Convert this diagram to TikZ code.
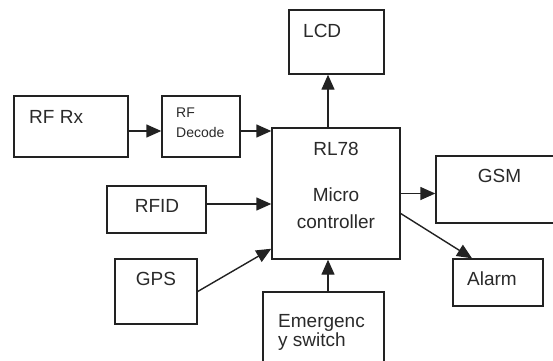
\documentclass[tikz,border=0pt]{standalone}
\usepackage{fontspec}
\setmainfont{Liberation Sans}
\usetikzlibrary{arrows.meta}
\definecolor{ink}{HTML}{222222}
\definecolor{txt}{HTML}{2a2a2a}
\begin{document}
\begin{tikzpicture}[x=1pt,y=-1pt,
  box/.style={draw=ink,line width=1.4pt,rectangle,inner sep=0pt},
  lbl/.style={anchor=base west,inner sep=0pt,text=txt,font=\fontsize{19}{22}\selectfont},
  clbl/.style={anchor=base,inner sep=0pt,text=txt,font=\fontsize{19}{22}\selectfont},
  slbl/.style={anchor=base west,inner sep=0pt,text=txt,font=\fontsize{14}{16}\selectfont},
  conn/.style={draw=ink,line width=1.4pt,-{Triangle[length=15pt,width=13pt]}}]
\useasboundingbox (0,0) rectangle (553,360);
\fill[white] (0,0) rectangle (553,360);
\begin{scope}
\clip (0,0) rectangle (553,360);
% boxes
\node[box,minimum width=114pt,minimum height=61pt] (rfrx) at (71,126.5) {};
\node[box,minimum width=78pt,minimum height=61pt] (rfdec) at (201,126.5) {};
\node[box,minimum width=95pt,minimum height=64pt] (lcd) at (336.5,42) {};
\node[box,minimum width=128pt,minimum height=131pt] (mcu) at (336,193.5) {};
\node[box,minimum width=130pt,minimum height=67pt] (gsm) at (501,189.5) {};
\node[box,minimum width=99pt,minimum height=47pt] (rfid) at (156.5,209.5) {};
\node[box,minimum width=82pt,minimum height=65pt] (gps) at (156,291.5) {};
\node[box,minimum width=90pt,minimum height=47pt] (alarm) at (498,282.5) {};
\node[box,minimum width=121pt,minimum height=80pt] (emerg) at (323.5,332) {};
\end{scope}
% labels
\node[lbl] (trfrx) at (29,123) {RF Rx};
\node[slbl] (trfdec1) at (176,117) {RF};
\node[slbl] (trfdec2) at (176,137) {Decode};
\node[lbl] (tlcd) at (303,37) {LCD};
\node[clbl] (tmcu1) at (336,155) {RL78};
\node[clbl] (tmcu2) at (336,201) {Micro};
\node[clbl] (tmcu3) at (336,228) {controller};
\node[clbl] (tgsm) at (499.5,182) {GSM};
\node[clbl] (trfid) at (157,212) {RFID};
\node[clbl] (tgps) at (156,285) {GPS};
\node[lbl] (talarm) at (467,285) {Alarm};
\node[lbl] (temerg1) at (278,327) {Emergenc};
\node[lbl] (temerg2) at (278,346) {y switch};
% connectors
\draw[conn] ([yshift=-4.5pt]rfrx.east) -- ([yshift=-4.5pt]rfdec.west);
\draw[conn] ([yshift=-4.5pt]rfdec.east) -- ([yshift=-4.5pt]rfdec.east -| mcu.west);
\draw[conn] ([yshift=5.5pt]rfid.east) -- ([yshift=5.5pt]rfid.east -| mcu.west);
\draw[conn] (gps.east) -- ([yshift=11pt]mcu.south west);
\draw[conn] ([xshift=-8pt]mcu.north) -- ([xshift=-8pt]mcu.north |- lcd.south);
\draw[conn] ([xshift=-8pt]mcu.south |- emerg.north) -- ([xshift=-8pt]mcu.south);
\draw[conn] (mcu.east) -- (mcu.east -| gsm.west);
\draw[conn] ([yshift=-20pt]mcu.east) -- ([xshift=-26pt]alarm.north);
\end{tikzpicture}
\end{document}
